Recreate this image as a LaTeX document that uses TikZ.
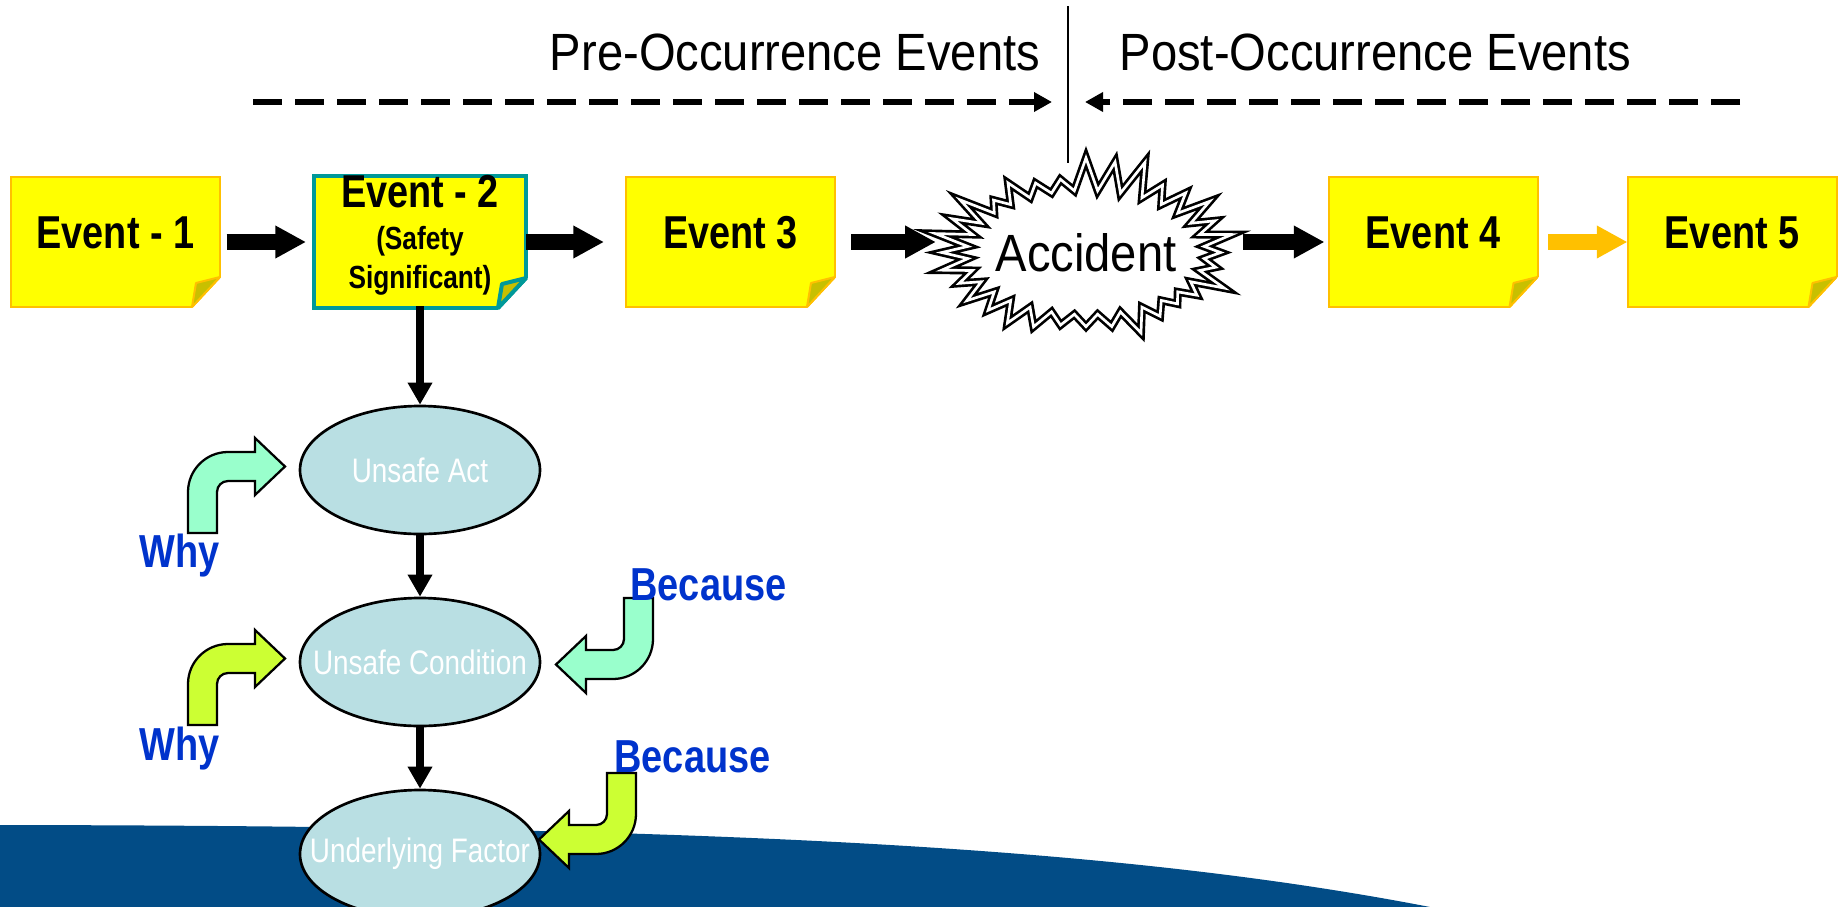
\documentclass[tikz,border=0pt]{standalone}
\usepackage{fontspec}
\setmainfont{Liberation Sans}
\newfontfamily\narrowfont[FakeStretch=0.82]{Liberation Sans}
\newfontfamily\headfont[FakeStretch=0.9]{Liberation Sans}
\usetikzlibrary{arrows.meta,shapes.geometric,shapes.symbols}

\definecolor{noteyellow}{RGB}{255,255,0}
\definecolor{noteedge}{RGB}{255,192,0}
\definecolor{foldolive}{RGB}{200,192,0}
\definecolor{noteteal}{RGB}{0,153,153}
\definecolor{ellblue}{RGB}{185,223,227}
\definecolor{whymint}{RGB}{153,255,204}
\definecolor{whylime}{RGB}{204,255,51}
\definecolor{askblue}{RGB}{0,51,204}
\definecolor{bandblue}{RGB}{2,76,134}

\tikzset{
  note/.style={rectangle, draw=noteedge, line width=1.5pt, fill=noteyellow,
    minimum width=156.75pt, minimum height=97.5pt, inner sep=0pt, outer sep=0pt},
  notetext/.style={anchor=base, font=\narrowfont\bfseries\fontsize{34.6}{40}\selectfont},
  smalltext/.style={align=center, font=\narrowfont\bfseries\fontsize{24}{29}\selectfont},
  headtext/.style={anchor=base, font=\headfont\fontsize{39.3}{44}\selectfont},
  asktext/.style={anchor=base, text=askblue, font=\narrowfont\bfseries\fontsize{34.7}{40}\selectfont},
  cause/.style={ellipse, draw, line width=2pt, fill=ellblue, text=white,
    minimum width=180pt, minimum height=96pt, inner xsep=-30pt, inner ysep=0pt,
    font=\narrowfont\fontsize{25.5}{30}\selectfont},
  burst/.style={starburst, starburst points=32, starburst point height=27pt,
    random starburst=7, draw, line width=2pt, double=white, double distance=2pt,
    fill=white, minimum width=232pt, minimum height=147pt, inner xsep=-20pt, inner ysep=0pt,
    font=\headfont\fontsize{39.3}{44}\selectfont},
  blockarrow/.style={line width=12pt, -{Triangle[length=23pt,width=23pt]}},
  downarrow/.style={line width=6pt, -{Triangle[length=16.5pt,width=17.5pt]}},
  dasharrow/.style={line width=4pt, dash pattern=on 22pt off 9.5pt,
    -{Triangle[length=13.5pt,width=14pt]}},
  bentarrow/.pic={
    \draw[pic actions, line width=1.7pt, line join=miter]
      (0,0) -- (0,41) arc[start angle=180, end angle=90, radius=40]
      -- (67,81) -- (67,95) -- (97,66.5) -- (67,38) -- (67,52) -- (40,52)
      arc[start angle=90, end angle=180, radius=11] -- (29,0) -- cycle;
  }
}

% curled corner of a note
\newcommand{\notefold}[2]{%
  \fill[white] (#1.south east) ++(-28,0) -- ++(28,-30) -- ++(5,0) -- ++(0,35) -- ++(-33,0) -- cycle;
  \draw[#2] (#1.south east) ++(-28,0) -- ++(28,-30);
  \filldraw[#2, fill=foldolive, line join=round] (#1.south east) ++(0,-30) -- ++(-24,6) -- ++(-4,24) -- cycle;
}

\begin{document}
\begin{tikzpicture}[x=0.75pt,y=0.75pt,yscale=-1]
    \useasboundingbox (0,0) rectangle (1843,907);
    \fill[bandblue] (0,825) .. controls (700,826) and (1110,845) .. (1430,907) -- (0,907) -- cycle;

    % time line
    \node[headtext] (pre) at (795,70) {Pre-Occurrence Events};
    \node[headtext, anchor=base west] (post) at (1115,70) {Post-Occurrence Events};
    \coordinate (prestart) at (253,102);
    \coordinate (preend) at (1052,102);
    \coordinate (poststart) at (1740,102);
    \coordinate (postend) at (1085,102);
    \draw[dasharrow] (prestart) -- (preend);
    \draw[dasharrow] (poststart) -- (postend);

    % event chain
    \node[note] (e1) at (115.5,242) {};
    \node[note, draw=noteteal, line width=3pt, minimum width=159pt, minimum height=99pt] (e2) at (420,242) {};
    \node[note] (e3) at (730.5,242) {};
    \node[note] (e4) at (1433,242) {};
    \node[note] (e5) at (1732,242) {};
    \notefold{e1}{noteedge, line width=1.5pt}
    \notefold{e2}{noteteal, line width=3pt}
    \notefold{e3}{noteedge, line width=1.5pt}
    \notefold{e4}{noteedge, line width=1.5pt}
    \notefold{e5}{noteedge, line width=1.5pt}
    \node[burst] (acc) at (1086,252.5) {Accident};
    \draw[line width=1.5pt] (1068,6) -- (1068,163);

    \node[notetext] (t1) at (115.5,248) {Event - 1};
    \node[notetext] (t2) at (420,207) {Event - 2};
    \node[smalltext] (t2b) at (420,261) {(Safety\\Significant)};
    \node[notetext] (t3) at (730.5,248) {Event 3};
    \node[notetext] (t4) at (1433,248) {Event 4};
    \node[notetext] (t5) at (1732,248) {Event 5};

    \draw[blockarrow] ([xshift=5pt]e1.east) -- ([xshift=-6pt]e2.west);
    \draw[blockarrow] (e2.east) -- ([xshift=-16.5pt]e3.west);
    \draw[blockarrow] ([xshift=12pt]e3.east) -- (e3.east -| acc.west);
    \draw[blockarrow] ([xshift=14pt]acc.east |- e4.west) -- ([xshift=-3pt]e4.west);
    \draw[blockarrow, draw=noteedge, fill=noteedge] ([xshift=8pt]e4.east) -- (e5.west);

    % why / because chain
    \node[cause] (ua) at (420,470) {Unsafe Act};
    \node[cause] (uc) at (420,662) {Unsafe Condition};
    \node[cause] (uf) at (420,854) {Underlying Factor};
    \draw[downarrow] ([yshift=-1.5pt]e2.south) -- (ua.north);
    \draw[downarrow] (ua.south) -- (uc.north);
    \draw[downarrow] (uc.south) -- (uf.north);

    \pic[fill=whymint] at (188,533) {bentarrow};
    \pic[fill=whylime] at (188,725) {bentarrow};
    \pic[fill=whymint, rotate=180] at (653,598) {bentarrow};
    \pic[fill=whylime, rotate=180] at (636,773) {bentarrow};
    \node[asktext] (why1) at (180,567) {Why};
    \node[asktext] (why2) at (180,760) {Why};
    \node[asktext] (because1) at (708.5,600) {Because};
    \node[asktext] (because2) at (692.5,772) {Because};
\end{tikzpicture}
\end{document}
